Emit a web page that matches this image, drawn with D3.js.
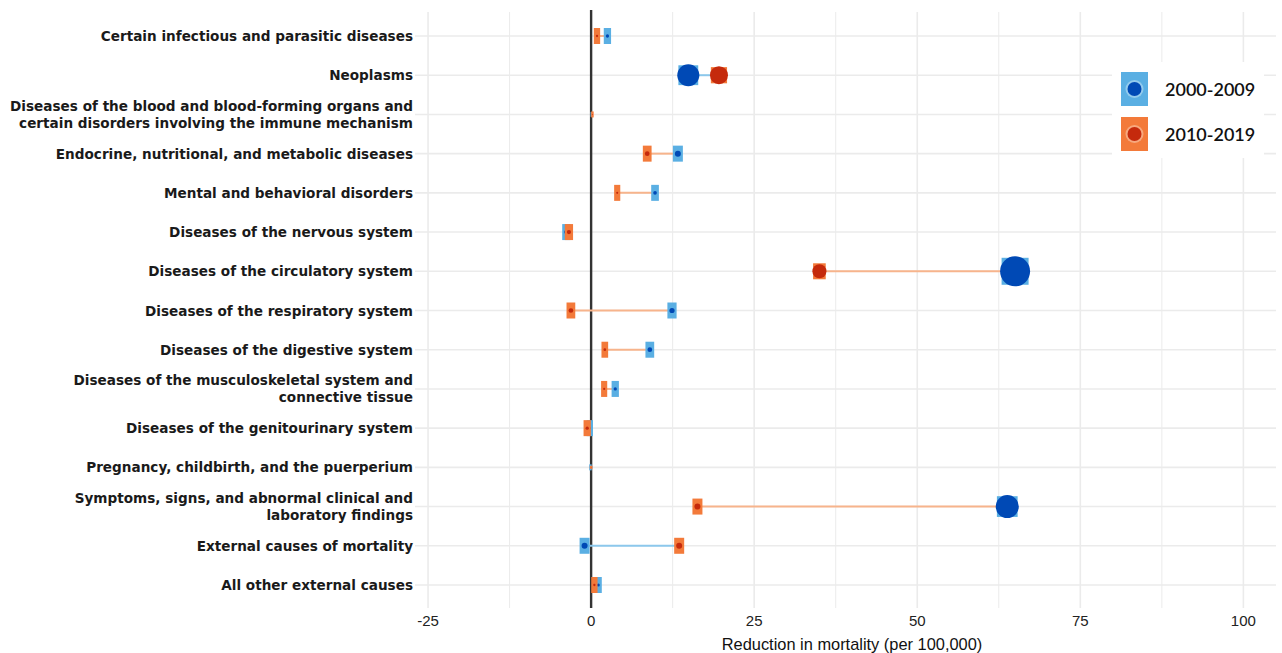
<!DOCTYPE html>
<html><head><meta charset="utf-8">
<script src="https://cdn.jsdelivr.net/npm/d3@7"></script>
<style>
html,body{margin:0;padding:0;background:#fff;}
svg{display:block;}
</style></head>
<body>
<svg id="chart" width="1282" height="653"></svg>
<script>
// ---- data ----
const categories = [
  ["Certain infectious and parasitic diseases"],
  ["Neoplasms"],
  ["Diseases of the blood and blood-forming organs and", "certain disorders involving the immune mechanism"],
  ["Endocrine, nutritional, and metabolic diseases"],
  ["Mental and behavioral disorders"],
  ["Diseases of the nervous system"],
  ["Diseases of the circulatory system"],
  ["Diseases of the respiratory system"],
  ["Diseases of the digestive system"],
  ["Diseases of the musculoskeletal system and", "connective tissue"],
  ["Diseases of the genitourinary system"],
  ["Pregnancy, childbirth, and the puerperium"],
  ["Symptoms, signs, and abnormal clinical and", "laboratory findings"],
  ["External causes of mortality"],
  ["All other external causes"]
];
const series = ["2000-2009", "2010-2019"];
const values2000 = [2.5, 14.9, 0.1, 13.3, 9.8, -3.8, 65.0, 12.4, 9.0, 3.7, -0.2, -0.1, 63.8, -1.0, 1.1];
const values2010 = [0.9, 19.6, 0.2, 8.6, 4.0, -3.4, 35.0, -3.1, 2.1, 2.0, -0.6, 0.0, 16.3, 13.5, 0.5];
// bubble weight (relative share of deaths)
const weight2000 = [1.2, 54, 0.08, 4, 1.5, 2, 100, 3, 2.5, 1.2, 0.6, 0.1, 59, 4, 1];
const weight2010 = [0.6, 36, 0.1, 2.5, 0.5, 2, 22, 2.5, 0.8, 0.5, 1.2, 0.05, 4, 4, 0.6];
const xTicks = [-25, 0, 25, 50, 75, 100];
const xTitle = "Reduction in mortality (per 100,000)";

// ---- layout ----
const svg = d3.select("#chart");
const panel = {left: 415, right: 1276, top: 12, bottom: 608};
const x = d3.scaleLinear().domain([-27, 105]).range([panel.left, panel.right]);
const idx = d3.range(categories.length);
const y = d3.scalePoint().domain(idx).range([36, 585]);

const colors = {
  lightBlue: "#5aafe3", darkBlue: "#0049b5",
  orange: "#f37a3a", darkRed: "#c52a0c",
  segBlue: "#8cc8ec", segOrange: "#f7b48c",
  grid: "#ebebeb"
};
const rScale = d3.scaleSqrt().domain([0, 100]).range([0, 15]);

// gridlines
const g = svg.append("g");
const minor = [-12.5, 12.5, 37.5, 62.5, 87.5];
g.selectAll(".minor").data(minor)
  .join("line")
  .attr("x1", d => x(d)).attr("x2", d => x(d))
  .attr("y1", panel.top).attr("y2", panel.bottom)
  .attr("stroke", colors.grid).attr("stroke-width", 1);
g.selectAll(".major").data(xTicks)
  .join("line")
  .attr("x1", d => x(d)).attr("x2", d => x(d))
  .attr("y1", panel.top).attr("y2", panel.bottom)
  .attr("stroke", colors.grid).attr("stroke-width", 1.6);
g.selectAll(".hgrid").data(idx)
  .join("line")
  .attr("x1", panel.left).attr("x2", panel.right)
  .attr("y1", d => y(d)).attr("y2", d => y(d))
  .attr("stroke", colors.grid).attr("stroke-width", 1.6);

// zero line
svg.append("line")
  .attr("x1", x(0)).attr("x2", x(0))
  .attr("y1", 10).attr("y2", 608)
  .attr("stroke", "#333").attr("stroke-width", 2.4);

// segments
svg.append("g").selectAll("line").data(idx)
  .join("line")
  .attr("x1", i => x(values2000[i])).attr("x2", i => x(values2010[i]))
  .attr("y1", i => y(i)).attr("y2", i => y(i))
  .attr("stroke", i => values2010[i] > values2000[i] ? colors.segBlue : colors.segOrange)
  .attr("stroke-width", 2);

function drawMarkers(vals, wts, light, dark) {
  const gg = svg.append("g");
  const pts = idx.map(i => ({i, v: vals[i], w: wts[i]}));
  gg.selectAll("rect").data(pts).join("rect")
    .each(function(d) {
      const r = rScale(d.w);
      let w, h;
      if (d.w < 0.3) { w = 2.5; h = Math.max(3, d.w * 60); }
      else if (r > 5) { w = 1.8 * r; h = Math.max(16, 1.8 * r); }
      else { w = Math.max(5, 2 * r + 4); h = 16; }
      d3.select(this)
        .attr("x", x(d.v) - w / 2).attr("y", y(d.i) - h / 2)
        .attr("width", w).attr("height", h)
        .attr("fill", light);
    });
  gg.selectAll("circle").data(pts).join("circle")
    .attr("cx", d => x(d.v)).attr("cy", d => y(d.i))
    .attr("r", d => rScale(d.w))
    .attr("fill", dark);
}
drawMarkers(values2000, weight2000, colors.lightBlue, colors.darkBlue);
drawMarkers(values2010, weight2010, colors.orange, colors.darkRed);

// y labels
const labG = svg.append("g")
  .attr("font-family", "'DejaVu Sans', Verdana, sans-serif")
  .attr("font-weight", "bold").attr("font-size", 13.6).attr("fill", "#1a1a1a");
idx.forEach(i => {
  const lines = categories[i];
  const t = labG.append("text").attr("text-anchor", "end")
    .attr("x", 413).attr("y", y(i) - (lines.length - 1) * 8.5)
    .attr("dominant-baseline", "central");
  lines.forEach((l, k) => t.append("tspan").attr("x", 413).attr("dy", k === 0 ? 0 : 17).text(l));
});

// x axis labels
const axG = svg.append("g")
  .attr("font-family", "'Liberation Sans Narrow', 'Liberation Sans', Arial, sans-serif")
  .attr("font-size", 15).attr("fill", "#222");
axG.selectAll("text").data(xTicks).join("text")
  .attr("x", d => x(d)).attr("y", 626).attr("text-anchor", "middle")
  .text(d => d);
axG.append("text").attr("x", 852).attr("y", 650).attr("text-anchor", "middle")
  .attr("font-size", 16.4).attr("fill", "#111").text(xTitle);

// legend
const lg = svg.append("g");
lg.append("rect").attr("x", 1112).attr("y", 62).attr("width", 152).attr("height", 96).attr("fill", "#fff");
const legLight = [colors.lightBlue, colors.orange];
const legDark = [colors.darkBlue, colors.darkRed];
series.forEach((s, k) => {
  const cy = 89 + k * 45;
  lg.append("rect").attr("x", 1121).attr("y", cy - 17).attr("width", 27).attr("height", 34).attr("fill", legLight[k]);
  lg.append("circle").attr("cx", 1134.5).attr("cy", cy).attr("r", 9).attr("fill", "#fff").attr("opacity", 0.35);
  lg.append("circle").attr("cx", 1134.5).attr("cy", cy).attr("r", 7).attr("fill", legDark[k]);
  lg.append("text").attr("x", 1165).attr("y", cy).attr("dominant-baseline", "central")
    .attr("font-family", "Lato, 'Open Sans', sans-serif").attr("font-weight", "600")
    .attr("font-size", 18).attr("fill", "#111").text(s);
});
</script>
</body></html>
